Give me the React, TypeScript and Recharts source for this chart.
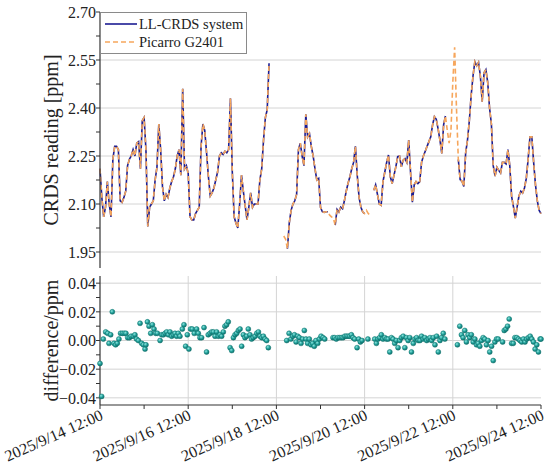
import React from 'react';
import {
  ComposedChart,
  Line,
  Scatter,
  XAxis,
  YAxis,
  CartesianGrid,
  Legend,
} from 'recharts';

// hours since 2025/9/14 12:00, one reading per hour (null = no data)
const llCrds: (number | null)[] = [
  // 0 - 19
  2.21, 2.12, 2.06, 2.09, 2.17, 2.10, 2.06, 2.24, 2.28, 2.28,
  2.27, 2.11, 2.105, 2.12, 2.14, 2.22, 2.24, 2.25, 2.27, 2.25,
  // 20 - 39
  2.29, 2.295, 2.21, 2.36, 2.37, 2.27, 2.03, 2.09, 2.10, 2.11,
  2.175, 2.215, 2.35, 2.27, 2.155, 2.11, 2.13, 2.12, 2.15, 2.17,
  // 40 - 59
  2.185, 2.21, 2.25, 2.27, 2.19, 2.46, 2.21, 2.22, 2.195, 2.06,
  2.05, 2.05, 2.07, 2.08, 2.09, 2.28, 2.35, 2.33, 2.26, 2.185,
  // 60 - 79
  2.125, 2.135, 2.15, 2.175, 2.20, 2.25, 2.26, 2.255, 2.265, 2.26,
  2.27, 2.43, 2.20, 2.06, 2.04, 2.025, 2.10, 2.19, 2.14, 2.095,
  // 80 - 99
  2.05, 2.09, 2.135, 2.09, 2.10, 2.10, 2.10, 2.175, 2.21, 2.30,
  2.37, 2.395, 2.54, null, null, null, null, null, null, null,
  // 100 - 119
  null, null, 1.96, 2.04, 2.08, 2.10, 2.11, 2.13, 2.27, 2.29,
  2.25, 2.22, 2.38, 2.31, 2.32, 2.28, 2.25, 2.21, 2.175, 2.18,
  // 120 - 139
  2.09, 2.076, 2.074, 2.076, 2.076, null, null, null, 2.034, 2.083,
  2.075, 2.09, 2.085, 2.11, 2.14, 2.165, 2.185, 2.21, 2.23, 2.28,
  // 140 - 159
  2.19, 2.12, 2.09, 2.075, 2.07, null, null, null, null, 2.143,
  2.16, 2.13, 2.10, 2.096, 2.17, 2.20, 2.23, 2.253, 2.185, 2.164,
  // 160 - 179
  2.19, 2.216, 2.248, 2.25, 2.216, 2.237, 2.242, 2.23, 2.30, 2.20,
  2.106, 2.16, 2.17, 2.164, 2.17, 2.23, 2.25, 2.265, 2.28, 2.295,
  // 180 - 199
  2.31, 2.347, 2.373, 2.365, 2.335, 2.30, 2.258, 2.347, 2.375, null,
  null, null, null, null, null, 2.239, 2.176, 2.171, 2.155, 2.26,
  // 200 - 219
  2.30, 2.36, 2.44, 2.50, 2.545, 2.532, 2.543, 2.50, 2.42, 2.51,
  2.52, 2.48, 2.40, 2.35, 2.22, 2.187, 2.215, 2.205, 2.197, 2.23,
  // 220 - 240
  2.23, 2.225, 2.27, 2.22, 2.124, 2.092, 2.056, 2.09, 2.125, 2.14,
  2.134, 2.15, 2.18, 2.24, 2.31, 2.31, 2.23, 2.16, 2.11, 2.08,
  2.07,
];

const picarro: (number | null)[] = [
  // 0 - 19
  2.21, 2.12, 2.06, 2.09, 2.17, 2.10, 2.06, 2.24, 2.28, 2.28,
  2.27, 2.11, 2.105, 2.12, 2.14, 2.22, 2.24, 2.25, 2.27, 2.25,
  // 20 - 39
  2.29, 2.295, 2.21, 2.36, 2.37, 2.27, 2.03, 2.09, 2.10, 2.11,
  2.175, 2.215, 2.35, 2.27, 2.155, 2.11, 2.13, 2.12, 2.15, 2.17,
  // 40 - 59
  2.185, 2.21, 2.25, 2.27, 2.19, 2.46, 2.21, 2.22, 2.195, 2.06,
  2.05, 2.05, 2.07, 2.08, 2.09, 2.28, 2.35, 2.33, 2.26, 2.185,
  // 60 - 79
  2.125, 2.135, 2.15, 2.175, 2.20, 2.25, 2.26, 2.255, 2.265, 2.26,
  2.27, 2.43, 2.20, 2.06, 2.04, 2.025, 2.10, 2.19, 2.14, 2.095,
  // 80 - 99
  2.05, 2.09, 2.135, 2.09, 2.10, 2.10, 2.10, 2.175, 2.21, 2.30,
  2.37, 2.395, 2.54, null, null, null, null, null, null, null,
  // 100 - 119
  2.00, 1.99, 1.96, 2.04, 2.08, 2.10, 2.11, 2.13, 2.27, 2.29,
  2.25, 2.22, 2.38, 2.31, 2.32, 2.28, 2.25, 2.21, 2.175, 2.18,
  // 120 - 139
  2.09, 2.076, 2.074, 2.076, 2.076, 2.065, 2.06, 2.055, 2.034, 2.083,
  2.075, 2.09, 2.085, 2.11, 2.14, 2.165, 2.185, 2.21, 2.23, 2.28,
  // 140 - 159
  2.19, 2.12, 2.09, 2.075, 2.07, 2.08, 2.07, 2.065, null, 2.143,
  2.16, 2.13, 2.10, 2.096, 2.17, 2.20, 2.23, 2.253, 2.185, 2.164,
  // 160 - 179
  2.19, 2.216, 2.248, 2.25, 2.216, 2.237, 2.242, 2.23, 2.30, 2.20,
  2.106, 2.16, 2.17, 2.164, 2.17, 2.23, 2.25, 2.265, 2.28, 2.295,
  // 180 - 199
  2.31, 2.347, 2.373, 2.365, 2.335, 2.30, 2.258, 2.347, 2.375, 2.33,
  2.29, 2.33, 2.48, 2.59, 2.40, 2.239, 2.176, 2.171, 2.155, 2.26,
  // 200 - 219
  2.30, 2.36, 2.44, 2.50, 2.545, 2.532, 2.543, 2.50, 2.42, 2.51,
  2.52, 2.48, 2.40, 2.35, 2.22, 2.187, 2.215, 2.205, 2.197, 2.23,
  // 220 - 240
  2.23, 2.225, 2.27, 2.22, 2.124, 2.092, 2.056, 2.09, 2.125, 2.14,
  2.134, 2.15, 2.18, 2.24, 2.31, 2.31, 2.23, 2.16, 2.11, 2.08,
  2.07,
];

// difference points: time (hours since 2025/9/14 12:00) and value (ppm)
const diffHours = [
  0, 0.9, 1.8, 3.1, 4.2, 4.9, 5.8, 6.7, 7.6, 8.5, 9.4, 10.3, 11.2, 12.2, 13.2, 14.1,
  15.1, 16, 16.9, 18.1, 19, 19.9, 20.9, 21.8, 22.7, 23.6, 24.5, 25, 25.8, 26.7, 27.6,
  28.5, 29.4, 30.3, 31.2, 32.7, 33.6, 34.5, 35.4, 36.3, 37.2, 38.1, 39, 39.9, 40.8,
  41.7, 42.6, 43.5, 44.8, 45.7, 46.6, 47.5, 48.4, 49.3, 50.2, 51.3, 52.6, 53.5, 54.4,
  55.3, 56.6, 58, 58.9, 59.9, 60.8, 61.7, 62.6, 63.5, 64.4, 65.3, 66.2, 67.1, 68,
  68.9, 69.8, 70.8, 71.7, 72.6, 73.5, 74.4, 75.3, 76.2, 77.1, 78, 78.9, 79.8, 80.7,
  81.6, 82.5, 83.4, 84.4, 85.3, 86.2, 87.1, 88, 88.9, 89.8, 90.7, 91.6,
  101.6, 102.9, 103.9, 104.9, 105.8, 106.7, 107.6, 108.5, 109.4, 110.3, 111.2, 112.1,
  113, 113.9, 114.8, 115.7, 116.6, 117.5, 118.5, 119.4, 120.3, 121.4, 122.3,
  126.8, 127.7, 128.6, 129.5, 130.5, 131.4, 132.3, 133.2, 134.1, 135, 135.9, 136.8,
  137.7, 138.6, 139.9, 140.8, 141.7, 142.6, 145.8,
  149.5, 150.4, 151.3, 152.2, 153.1, 154, 155, 155.9, 156.8, 157.7, 158.6, 159.5,
  160.4, 161.3, 162.2, 163.1, 164, 165, 165.9, 166.8, 167.7, 168.6, 169.5, 170.5,
  171.4, 172.3, 173.2, 174.1, 175, 175.9, 176.8, 177.8, 178.7, 179.6, 180.5, 181.4,
  182.3, 183.2, 184.1, 185, 185.9, 186.8, 187.7,
  194.5, 195.8, 196.7, 197.6, 198.5, 199.4, 200.3, 201.2, 202.1, 203.1, 204, 204.9,
  205.8, 206.7, 207.6, 208.5, 209.4, 210.3, 211.2, 212.1, 213.1, 214, 214.9, 215.8,
  216.7, 219.1, 220, 220.9, 221.8, 222.7, 224, 224.9, 225.8, 226.8, 227.7, 228.6,
  229.5, 230.4, 231.3, 232.2, 233.1, 234.1, 235, 235.9, 236.8, 237.7, 238.6, 239.5, 240,
];

const diffValues = [
  -0.016, -0.039, 0.001, 0.006, 0.005, -0.002, 0.004, 0.020, -0.002, -0.003, -0.002, 0.001, 0.005, 0.005, 0.005, 0.005,
  0.002, 0.002, 0.003, 0.003, 0.004, 0.001, 0.000, 0.012, -0.002, -0.003, -0.006, -0.003, 0.013, 0.010, 0.005,
  0.011, 0.008, 0.005, 0.005, 0.000, 0.004, 0.004, 0.005, 0.006, 0.004, 0.006, 0.003, 0.004, 0.005,
  0.003, 0.005, 0.003, 0.008, 0.011, -0.004, 0.004, -0.006, 0.008, 0.008, 0.005, 0.008, 0.005, 0.002,
  0.002, 0.009, -0.008, 0.004, 0.005, 0.006, 0.006, 0.003, 0.006, 0.003, 0.004, 0.003, 0.006, 0.010,
  0.011, 0.013, -0.005, -0.007, 0.002, 0.004, 0.005, 0.007, 0.008, -0.004, 0.004, 0.002, 0.003, 0.008,
  0.004, 0.001, 0.002, 0.003, 0.005, 0.006, 0.003, 0.002, 0.003, 0.001, 0.000, -0.005,
  0.000, 0.005, 0.001, 0.003, 0.004, -0.001, 0.003, 0.002, -0.002, 0.001, 0.007, 0.001,
  -0.002, 0.001, -0.003, -0.002, -0.004, 0.000, -0.002, 0.001, 0.003, 0.002, 0.001,
  0.002, 0.002, 0.001, 0.002, 0.002, 0.002, 0.002, 0.003, 0.003, 0.003, 0.003, 0.004,
  0.002, 0.001, -0.005, 0.001, -0.001, 0.000, 0.001,
  0.001, -0.002, 0.001, 0.002, 0.004, 0.001, 0.002, 0.001, 0.001, -0.008, 0.002, 0.001,
  -0.002, 0.000, -0.005, 0.000, 0.002, 0.003, -0.005, 0.002, 0.000, 0.002, -0.008, -0.002,
  0.001, 0.002, 0.000, 0.000, 0.003, 0.001, 0.002, 0.000, 0.001, 0.002, 0.000, 0.002,
  -0.003, 0.003, -0.008, 0.000, 0.002, 0.005, 0.001,
  -0.003, 0.010, 0.004, 0.002, 0.007, -0.001, 0.004, 0.002, 0.004, -0.001, 0.001, -0.003,
  -0.002, -0.004, 0.000, 0.002, 0.001, -0.003, 0.000, -0.008, -0.004, -0.014, -0.001, 0.001,
  0.001, -0.001, 0.007, 0.008, 0.010, 0.015, -0.002, -0.002, 0.002, 0.002, 0.001, 0.000,
  -0.001, 0.001, -0.001, 0.001, 0.002, 0.003, 0.001, -0.001, -0.006, -0.003, -0.008, 0.001, 0.001,
];

const xMajorHours = [0, 48, 96, 144, 192, 240];
const xMinorHours = [0, 24, 48, 72, 96, 120, 144, 168, 192, 216, 240];
const xTickLabels = [
  '2025/9/14 12:00',
  '2025/9/16 12:00',
  '2025/9/18 12:00',
  '2025/9/20 12:00',
  '2025/9/22 12:00',
  '2025/9/24 12:00',
];
const topXTicks = [0, 60, 120, 180, 240];

const crdsMajor = [1.95, 2.1, 2.25, 2.4, 2.55, 2.7];
const crdsTicks = [1.95, 2.025, 2.1, 2.175, 2.25, 2.325, 2.4, 2.475, 2.55, 2.625, 2.7];
const diffMajor = [-0.04, -0.02, 0, 0.02, 0.04];
const diffTicks = [-0.04, -0.03, -0.02, -0.01, 0, 0.01, 0.02, 0.03, 0.04];

const NAVY = '#1c1c92';
const ORANGE = '#f6a65c';
const FRAME = '#333333';
const GRID = '#d4d4d4';
const FONT = '"Liberation Serif", "Times New Roman", serif';

const readingRows = llCrds.map((v, i) => ({ h: i, ll: v, pic: picarro[i] }));
const diffRows = diffHours.map((h, i) => ({ h, d: diffValues[i] }));

const isMajor = (list: number[], v: number) => list.some((m) => Math.abs(m - v) < 1e-9);
const fmtDiff = (v: number) => {
  if (!isMajor(diffMajor, v)) return '';
  const s = Math.abs(v).toFixed(2);
  return v < -1e-9 ? '\u2212' + s : s;
};

const DateTick = (props: any) => {
  const { x, y, payload } = props;
  const idx = xMajorHours.indexOf(payload.value);
  if (idx < 0) return null;
  const tx = x + 4;
  const ty = y + 10;
  return (
    <text
      x={tx}
      y={ty}
      transform={`rotate(-24 ${tx} ${ty})`}
      textAnchor="end"
      fontSize={16}
      fill="#222"
      fontFamily={FONT}
    >
      {xTickLabels[idx]}
    </text>
  );
};

const Ball = (props: any) => {
  const { cx, cy } = props;
  if (cx == null || cy == null) return null;
  return <circle cx={cx} cy={cy} r={2.5} fill="url(#tealBall)" stroke="#127873" strokeWidth={0.5} />;
};

const LegendBox = () => (
  <div
    style={{
      border: '1px solid #8a8a8a',
      background: '#fff',
      padding: '2px 3px 2px 2px',
      fontFamily: FONT,
      fontSize: 14.5,
      lineHeight: '18px',
      color: '#222',
    }}
  >
    <div style={{ display: 'flex', alignItems: 'center' }}>
      <svg width={36} height={18}>
        <line x1={2} y1={9} x2={34} y2={9} stroke={NAVY} strokeWidth={1.6} />
      </svg>
      <span>LL-CRDS system</span>
    </div>
    <div style={{ display: 'flex', alignItems: 'center' }}>
      <svg width={36} height={18}>
        <line x1={2} y1={9} x2={34} y2={9} stroke={ORANGE} strokeWidth={1.6} strokeDasharray="5 3" />
      </svg>
      <span>Picarro G2401</span>
    </div>
  </div>
);

export default function App() {
  const tickStyle = { fontSize: 16, fill: '#222', fontFamily: FONT };
  return (
    <div
      style={{
        position: 'absolute',
        left: 0,
        top: 0,
        width: 550,
        height: 465,
        background: '#fff',
        fontFamily: FONT,
      }}
    >
      <svg width={0} height={0} style={{ position: 'absolute' }}>
        <defs>
          <radialGradient id="tealBall" cx="38%" cy="35%" r="65%">
            <stop offset="0%" stopColor="#8fe6df" />
            <stop offset="55%" stopColor="#22a19b" />
            <stop offset="100%" stopColor="#0f6d69" />
          </radialGradient>
        </defs>
      </svg>

      {/* upper panel: readings */}
      <div style={{ position: 'absolute', left: 0, top: 0 }}>
        <ComposedChart
          width={550}
          height={270}
          data={readingRows}
          margin={{ top: 12, right: 9, bottom: 2, left: 0 }}
        >
          <CartesianGrid
            stroke={GRID}
            horizontalValues={[1.95, 2.1, 2.25, 2.4, 2.55]}
            verticalValues={[60, 120, 180]}
          />
          <XAxis
            dataKey="h"
            type="number"
            domain={[0, 240]}
            ticks={topXTicks}
            height={0}
            tick={false}
            tickLine={false}
            axisLine={{ stroke: FRAME, strokeWidth: 1.2 }}
          />
          <XAxis
            xAxisId="top"
            orientation="top"
            dataKey="h"
            type="number"
            domain={[0, 240]}
            ticks={topXTicks}
            height={0}
            mirror
            tick={false}
            tickSize={3}
            tickLine={{ stroke: FRAME }}
            axisLine={{ stroke: FRAME, strokeWidth: 1.2 }}
          />
          <YAxis
            type="number"
            domain={[1.9, 2.7]}
            ticks={crdsTicks}
            interval={0}
            width={100}
            tickSize={4}
            tickMargin={0}
            tickLine={{ stroke: FRAME }}
            axisLine={{ stroke: FRAME, strokeWidth: 1.2 }}
            tick={tickStyle}
            tickFormatter={(v: number) => (isMajor(crdsMajor, v) ? v.toFixed(2) : '')}
            label={{
              value: 'CRDS reading [ppm]',
              angle: -90,
              position: 'center',
              dx: 1,
              style: { fontSize: 20, fill: '#222', fontFamily: FONT },
            }}
          />
          <YAxis
            yAxisId="right"
            orientation="right"
            type="number"
            domain={[1.9, 2.7]}
            ticks={crdsTicks}
            interval={0}
            width={0}
            mirror
            tickSize={4}
            tickLine={{ stroke: FRAME }}
            axisLine={{ stroke: FRAME, strokeWidth: 1.2 }}
            tick={false}
          />
          <Legend
            layout="horizontal"
            verticalAlign="middle"
            align="center"
            content={<LegendBox />}
            wrapperStyle={{ position: 'absolute', left: 100, top: 12, width: 'auto' }}
          />
          <Line
            dataKey="ll"
            name="LL-CRDS system"
            type="linear"
            stroke={NAVY}
            strokeWidth={1.6}
            dot={false}
            connectNulls={false}
            isAnimationActive={false}
          />
          <Line
            dataKey="pic"
            name="Picarro G2401"
            type="linear"
            stroke={ORANGE}
            strokeWidth={1.6}
            strokeDasharray="5 3"
            dot={false}
            connectNulls={false}
            isAnimationActive={false}
          />
        </ComposedChart>
      </div>

      {/* lower panel: difference */}
      <div style={{ position: 'absolute', left: 0, top: 266 }}>
        <ComposedChart
          width={550}
          height={199}
          data={diffRows}
          margin={{ top: 10, right: 9, bottom: 0, left: 0 }}
        >
          <CartesianGrid
            stroke={GRID}
            horizontalValues={[-0.04, -0.02, 0, 0.02, 0.04]}
            verticalValues={[48, 96, 144, 192]}
          />
          <XAxis
            dataKey="h"
            type="number"
            domain={[0, 240]}
            ticks={xMinorHours}
            interval={0}
            height={60}
            tickSize={4}
            tickMargin={0}
            tickLine={{ stroke: FRAME }}
            axisLine={{ stroke: FRAME, strokeWidth: 1.2 }}
            tick={<DateTick />}
          />
          <XAxis
            xAxisId="top"
            orientation="top"
            dataKey="h"
            type="number"
            domain={[0, 240]}
            ticks={xMinorHours}
            interval={0}
            height={0}
            tickSize={4}
            tick={false}
            tickLine={{ stroke: FRAME }}
            axisLine={{ stroke: FRAME, strokeWidth: 1.2 }}
          />
          <YAxis
            type="number"
            domain={[-0.045, 0.045]}
            ticks={diffTicks}
            interval={0}
            width={100}
            tickSize={4}
            tickMargin={0}
            tickLine={{ stroke: FRAME }}
            axisLine={{ stroke: FRAME, strokeWidth: 1.2 }}
            tick={tickStyle}
            tickFormatter={fmtDiff}
            label={{
              value: 'difference/ppm',
              angle: -90,
              position: 'center',
              dx: 1,
              style: { fontSize: 20, fill: '#222', fontFamily: FONT },
            }}
          />
          <YAxis
            yAxisId="right"
            orientation="right"
            type="number"
            domain={[-0.045, 0.045]}
            ticks={diffTicks}
            interval={0}
            width={0}
            mirror
            tickSize={4}
            tickLine={{ stroke: FRAME }}
            axisLine={{ stroke: FRAME, strokeWidth: 1.2 }}
            tick={false}
          />
          <Scatter dataKey="d" shape={<Ball />} isAnimationActive={false} />
        </ComposedChart>
      </div>
    </div>
  );
}
